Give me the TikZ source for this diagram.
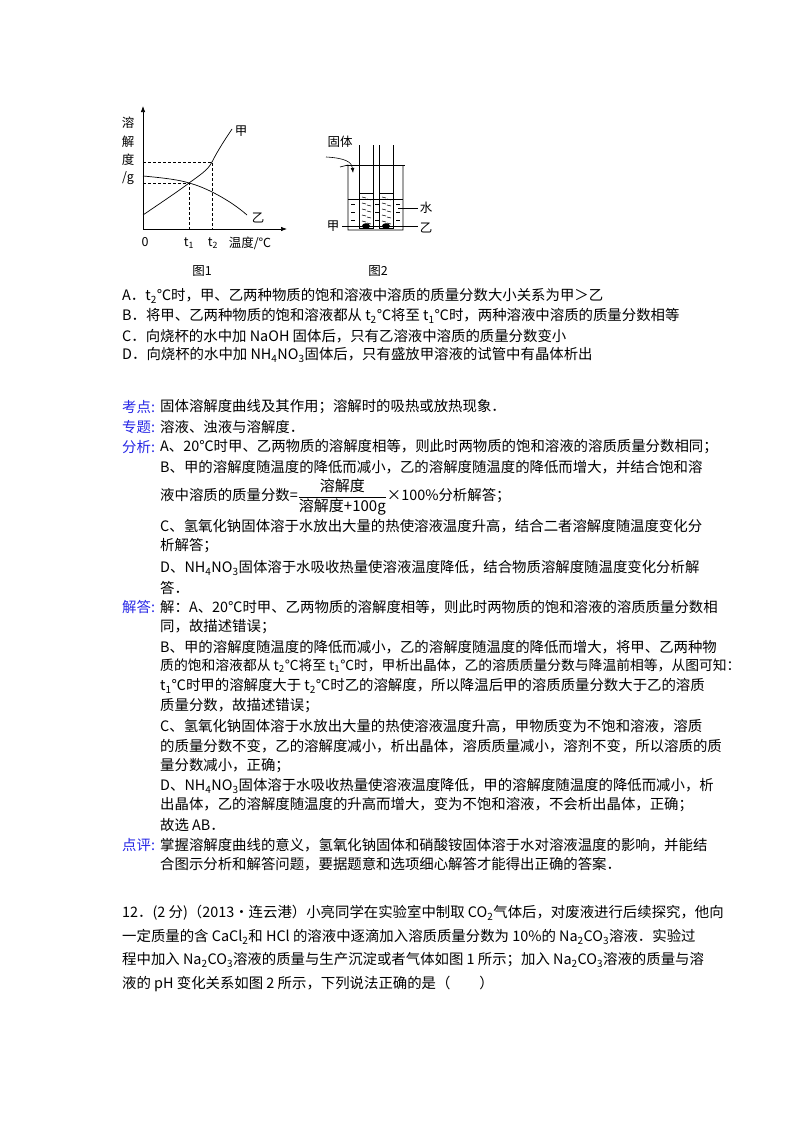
\documentclass[tikz,border=0pt]{standalone}
\usepackage{amsmath}
\usepackage{fontspec}
\setmainfont{Noto Sans CJK SC}
\usetikzlibrary{arrows.meta}
\definecolor{lab}{RGB}{40,40,230}
\newcommand{\sbs}[1]{\textsubscript{#1}}
\begin{document}
\begin{tikzpicture}[x=1pt,y=-1pt,
  txt/.style={anchor=west,inner sep=0pt,font=\fontsize{14.4}{16}\selectfont},
  sm/.style={inner sep=0pt,font=\fontsize{12.5}{14}\selectfont},
  lb/.style={txt,text=lab},
  ln/.style={line width=0.7pt},
  dsh/.style={dashed,line width=0.6pt,dash pattern=on 3pt off 2pt}]
\fill[white] (0,0) rectangle (800,1132);
% Figure 1
\draw[ln,-{Latex[length=6pt]}] (143,229) -- (143,106);
\draw[ln,-{Latex[length=6pt]}] (143,229) -- (287,229);
\draw[ln] (143,215) .. controls (165,200) and (180,190) .. (189,183) .. controls (200,175) and (208,170) .. (212,162) .. controls (218,150) and (226,138) .. (232,129);
\draw[ln] (143,176) .. controls (165,178) and (180,180) .. (189,183) .. controls (205,187) and (230,200) .. (247,215);
\draw[dsh] (143,162) -- (212,162) -- (212,229);
\draw[dsh] (143,183) -- (189,183) -- (189,229);
\node[sm] (jia1) at (241,131) {甲};
\node[sm] (yi1) at (258,218) {乙};
\node[sm] (y1) at (128,123) {溶};
\node[sm] (y2) at (128,142) {解};
\node[sm] (y3) at (128,160) {度};
\node[sm] (y4) at (128,178) {/g};
\node[sm] (o) at (145,242) {0};
\node[sm] (t1) at (189,243) {t\sbs{1}};
\node[sm] (t2) at (213,243) {t\sbs{2}};
\node[sm] (wd) at (250,243) {温度/℃};
\node[sm] (f1) at (202,271) {图1};
\node[sm] (f2) at (378,271) {图2};
% Figure 2
\draw[ln] (340,167) -- (348,165) -- (348,230) -- (403,230) -- (403,165);
\draw[ln] (346,165) -- (405,165);
\draw[ln] (348,199) -- (403,199);
\foreach \a/\b in {359/373,379/393}{
  \draw[ln] (\a,145) -- (\a,228) -- (\b,228) -- (\b,145);
  \draw[ln] (\a,193) -- (\b,193);
  \foreach \yy in {197,203,209,215,221}{
    \draw[line width=0.6pt] (\a+3,\yy) -- (\a+7,\yy+1);
    \draw[line width=0.6pt] (\b-6,\yy+2) -- (\b-2,\yy+3);}
}
\foreach \xx in {351,375,396}{
  \foreach \yy in {204,212,220}{\draw[line width=0.6pt] (\xx,\yy) -- (\xx+4,\yy);}}
\fill (366,226) ellipse (4pt and 2.8pt);
\fill (386,226) ellipse (4pt and 2.8pt);
\node[sm] (gt) at (340,142) {固体};
\draw[line width=0.6pt,-{Latex[length=5pt]}] (326,157) .. controls (345,158) and (352,162) .. (353,173);
\node[sm] (shui) at (426,208) {水};
\draw[line width=0.6pt] (398,208) -- (418,208);
\node[sm] (jia2) at (333,226) {甲};
\node[sm] (yi2) at (426,228) {乙};
\draw[line width=0.6pt] (342,226) -- (418,226);
% Options
\node[txt] (oa) at (122,296) {A．t\sbs{2}℃时，甲、乙两种物质的饱和溶液中溶质的质量分数大小关系为甲＞乙};
\node[txt] (ob) at (122,316) {B．将甲、乙两种物质的饱和溶液都从 t\sbs{2}℃将至 t\sbs{1}℃时，两种溶液中溶质的质量分数相等};
\node[txt] (oc) at (122,336) {C．向烧杯的水中加 NaOH 固体后，只有乙溶液中溶质的质量分数变小};
\node[txt] (od) at (122,355) {D．向烧杯的水中加 NH\sbs{4}NO\sbs{3}固体后，只有盛放甲溶液的试管中有晶体析出};
% Analysis
\node[lb] (k1) at (122,407) {考点:};
\node[txt] (k2) at (160,407) {固体溶解度曲线及其作用；溶解时的吸热或放热现象．};
\node[lb] (z1) at (122,427) {专题:};
\node[txt] (z2) at (160,427) {溶液、浊液与溶解度．};
\node[lb] (f0) at (122,447) {分析:};
\node[txt] (fa) at (160,447) {A、20℃时甲、乙两物质的溶解度相等，则此时两物质的饱和溶液的溶质质量分数相同；};
\node[txt] (fb) at (160,467) {B、甲的溶解度随温度的降低而减小，乙的溶解度随温度的降低而增大，并结合饱和溶};
\node[txt] (fb2) at (160,497) {液中溶质的质量分数=$\dfrac{\mbox{\fontsize{15}{16}\selectfont 溶解度}}{\mbox{\fontsize{15}{16}\selectfont 溶解度+100g}}$×100\%分析解答；};
\node[txt] (fc) at (160,526) {C、氢氧化钠固体溶于水放出大量的热使溶液温度升高，结合二者溶解度随温度变化分};
\node[txt] (fc2) at (160,546) {析解答；};
\node[txt] (fd) at (160,568) {D、NH\sbs{4}NO\sbs{3}固体溶于水吸收热量使溶液温度降低，结合物质溶解度随温度变化分析解};
\node[txt] (fd2) at (160,588) {答．};
\node[lb] (j0) at (122,607) {解答:};
\node[txt] (j1) at (160,607) {解：A、20℃时甲、乙两物质的溶解度相等，则此时两物质的饱和溶液的溶质质量分数相};
\node[txt] (j2) at (160,627) {同，故描述错误；};
\node[txt] (j3) at (160,647) {B、甲的溶解度随温度的降低而减小，乙的溶解度随温度的降低而增大，将甲、乙两种物};
\node[txt,font=\fontsize{13.8}{16}\selectfont] (j4) at (160,666) {质的饱和溶液都从 t\sbs{2}℃将至 t\sbs{1}℃时，甲析出晶体，乙的溶质质量分数与降温前相等，从图可知：};
\node[txt] (j5) at (160,686) {t\sbs{1}℃时甲的溶解度大于 t\sbs{2}℃时乙的溶解度，所以降温后甲的溶质质量分数大于乙的溶质};
\node[txt] (j6) at (160,706) {质量分数，故描述错误；};
\node[txt] (j7) at (160,726) {C、氢氧化钠固体溶于水放出大量的热使溶液温度升高，甲物质变为不饱和溶液，溶质};
\node[txt] (j8) at (160,746) {的质量分数不变，乙的溶解度减小，析出晶体，溶质质量减小，溶剂不变，所以溶质的质};
\node[txt] (j9) at (160,766) {量分数减小，正确；};
\node[txt] (j10) at (160,786) {D、NH\sbs{4}NO\sbs{3}固体溶于水吸收热量使溶液温度降低，甲的溶解度随温度的降低而减小，析};
\node[txt] (j11) at (160,805) {出晶体，乙的溶解度随温度的升高而增大，变为不饱和溶液，不会析出晶体，正确；};
\node[txt] (j12) at (160,825) {故选 AB．};
\node[lb] (d0) at (122,845) {点评:};
\node[txt] (d1) at (160,845) {掌握溶解度曲线的意义，氢氧化钠固体和硝酸铵固体溶于水对溶液温度的影响，并能结};
\node[txt] (d2) at (160,864) {合图示分析和解答问题，要据题意和选项细心解答才能得出正确的答案．};
% Question 12
\node[txt] (q1) at (122,913) {12．(2 分)（2013•连云港）小亮同学在实验室中制取 CO\sbs{2}气体后，对废液进行后续探究，他向};
\node[txt] (q2) at (122,937) {一定质量的含 CaCl\sbs{2}和 HCl 的溶液中逐滴加入溶质质量分数为 10\%的 Na\sbs{2}CO\sbs{3}溶液．实验过};
\node[txt] (q3) at (122,960) {程中加入 Na\sbs{2}CO\sbs{3}溶液的质量与生产沉淀或者气体如图 1 所示；加入 Na\sbs{2}CO\sbs{3}溶液的质量与溶};
\node[txt] (q4) at (122,984) {液的 pH 变化关系如图 2 所示，下列说法正确的是（　　）};
\end{tikzpicture}
\end{document}
